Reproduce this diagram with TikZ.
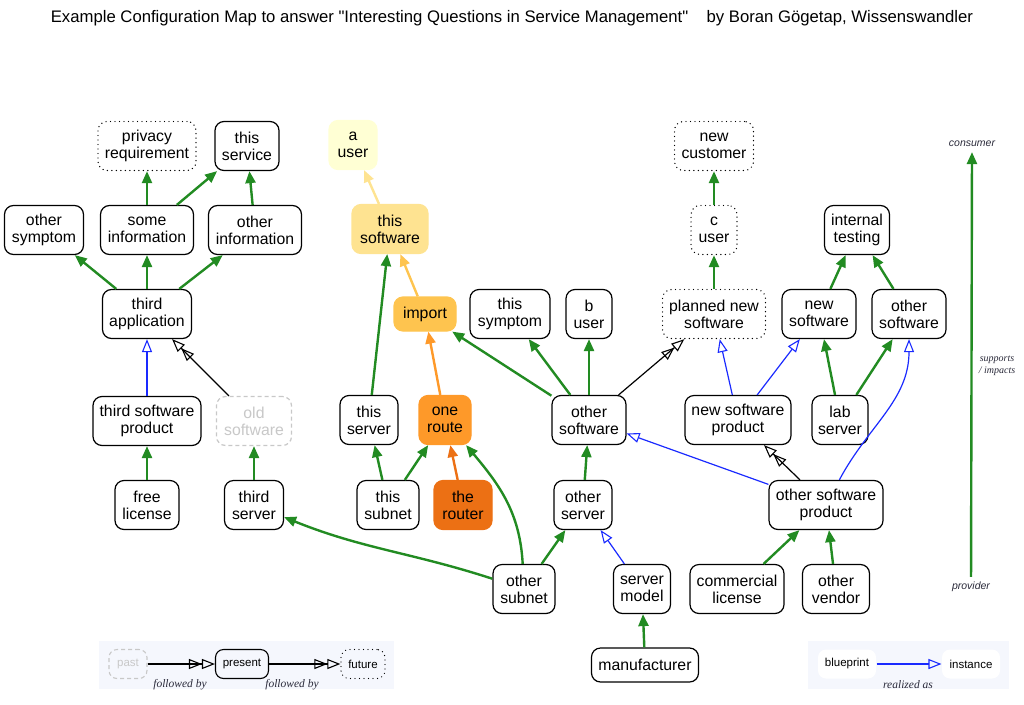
\documentclass[tikz,border=0pt]{standalone}
\usepackage{fontspec}
\setmainfont{Liberation Sans}
\newfontfamily\serifit{Liberation Serif}
\usetikzlibrary{arrows.meta}
\definecolor{fgreen}{HTML}{228B22}
\definecolor{yA}{HTML}{FFFFD4}
\definecolor{yB}{HTML}{FEE391}
\definecolor{yC}{HTML}{FEC44F}
\definecolor{yD}{HTML}{FE9929}
\definecolor{yE}{HTML}{EC7014}
\definecolor{legbg}{HTML}{F5F7FD}
\definecolor{lbl}{HTML}{2A2A3A}
\definecolor{ghost}{HTML}{C8C8C8}
\definecolor{rblue}{HTML}{1A2AFF}
\tikzset{
  box/.style={draw=black, line width=1.2pt, rounded corners=9pt, align=center,
    font=\fontsize{15.8}{17}\selectfont, inner sep=1pt, minimum height=49pt, fill=white},
  onebox/.style={box, minimum height=34pt},
  dotbox/.style={box, line cap=round, dash pattern=on 0pt off 4.5pt, line width=1.4pt},
  ghostbox/.style={box, draw=ghost, text=ghost, dashed, dash pattern=on 4pt off 3pt},
  colbox/.style={box, draw=#1, fill=#1},
  supe/.style={draw=fgreen, line width=2.4pt, -{Triangle[length=12pt,width=10pt]}},
  colarr/.style={draw=#1, line width=2.4pt, -{Triangle[length=12pt,width=10pt]}},
  opentip/.tip={Triangle[open,length=13pt,width=10pt,line width=1.1pt]},
  real/.style={draw=rblue, line width=1.2pt, -opentip},
  follow/.style={draw=black, line width=1.2pt, -{opentip[]opentip[]}},
  elabel/.style={font=\serifit\itshape\fontsize{11.5}{13}\selectfont, text=lbl, inner sep=1pt},
  slabel/.style={font=\itshape\fontsize{10.5}{12}\selectfont, text=lbl, inner sep=2pt},
  legbox/.style={rounded corners=8pt, align=center, font=\fontsize{11.5}{13}\selectfont,
    minimum height=29pt, inner sep=1pt, line width=1.1pt},
}
\begin{document}
\begin{tikzpicture}[x=1pt,y=-1pt]
\useasboundingbox (0,0) rectangle (1024,704);
% title
\node[font=\fontsize{16.7}{19}\selectfont] (title) at (512,18) {Example Configuration Map to answer \XeTeXglyph\XeTeXcharglyph34 Interesting Questions in Service Management\XeTeXglyph\XeTeXcharglyph34\hspace{1.1em}by Boran Gögetap, Wissenswandler};

% left cluster
\node[dotbox, minimum width=98pt] (priv) at (147,146) {privacy\\requirement};
\node[box, minimum width=64pt] (serv) at (247,146) {this\\service};
\node[box, minimum width=79pt] (osym) at (44,230) {other\\symptom};
\node[box, minimum width=93pt] (sinf) at (147,230) {some\\information};
\node[box, minimum width=93pt] (oinf) at (255,230) {other\\information};
\node[box, minimum width=89pt] (tapp) at (147,314) {third\\application};
\node[box, minimum width=108pt] (tsp) at (147,421) {third software\\product};
\node[ghostbox, minimum width=75pt] (olds) at (254,421) {old\\software};
\node[box, minimum width=64pt] (flic) at (147,505) {free\\license};
\node[box, minimum width=59pt] (tsrv) at (254,505) {third\\server};

% middle cluster
\node[colbox=yA, minimum width=48pt] (auser) at (353,145) {a\\user};
\node[colbox=yB, minimum width=76pt] (tsw) at (390,229) {this\\software};
\node[colbox=yC, minimum height=34pt, minimum width=62pt] (imp) at (425,314) {import};
\node[box, minimum width=80pt] (tsym) at (510,314) {this\\symptom};
\node[box, minimum width=46pt] (buser) at (589,314) {b\\user};
\node[box, minimum width=58pt] (tsrvr) at (369,420) {this\\server};
\node[colbox=yD, minimum width=52pt] (oroute) at (445,420) {one\\route};
\node[box, minimum width=74pt] (osw) at (589,420) {other\\software};
\node[box, minimum width=62pt] (tsub) at (388,505) {this\\subnet};
\node[colbox=yE, minimum width=58pt] (rtr) at (463,505) {the\\router};
\node[box, minimum width=58pt] (osrv) at (583,505) {other\\server};
\node[box, minimum width=62pt] (osub) at (524,589) {other\\subnet};
\node[box, minimum width=57pt] (smod) at (642,589) {server\\model};
\node[onebox, minimum width=107pt] (manu) at (645,665) {manufacturer};

% right cluster
\node[dotbox, minimum width=79pt] (ncust) at (714,146) {new\\customer};
\node[dotbox, minimum width=46pt] (cuser) at (714,230) {c\\user};
\node[box, minimum width=65pt] (itest) at (857,230) {internal\\testing};
\node[dotbox, minimum width=103pt] (pnsw) at (714,314) {planned new\\software};
\node[box, minimum width=74pt] (nsw) at (819,314) {new\\software};
\node[box, minimum width=74pt] (osw2) at (909,314) {other\\software};
\node[box, minimum width=106pt] (nsp) at (738,420) {new software\\product};
\node[box, minimum width=56pt] (lab) at (840,420) {lab\\server};
\node[box, minimum width=114pt] (osp) at (826,505) {other software\\product};
\node[box, minimum width=94pt] (clic) at (737,589) {commercial\\license};
\node[box, minimum width=67pt] (oven) at (836,589) {other\\vendor};

% edges left
\draw[supe] (sinf) -- (priv);
\draw[supe] (sinf) -- (serv);
\draw[supe] (oinf) -- (serv);
\draw[supe] (tapp) -- (osym);
\draw[supe] (tapp) -- (sinf);
\draw[supe] (tapp) -- (oinf);
\draw[real] (tsp) -- (tapp);
\draw[follow] (olds) -- (tapp);
\draw[supe] (flic) -- (tsp);
\draw[supe] (tsrv) -- (olds);
\draw[supe] (osub) to[out=162,in=-22] (tsrv);

% edges middle
\draw[colarr=yB] (tsw) -- (auser);
\draw[colarr=yC] (imp) -- (tsw);
\draw[supe] (tsrvr) -- (tsw);
\draw[colarr=yD] (oroute) -- (imp);
\draw[colarr=yE] (rtr) -- (oroute);
\draw[supe] (tsub) -- (tsrvr);
\draw[supe] (tsub) -- (oroute);
\draw[supe] (osub) to[out=93,in=-50] (oroute);
\draw[supe] (osub) -- (osrv);
\draw[real] (smod) -- (osrv);
\draw[supe] (manu) -- (smod);
\draw[supe] (osrv) -- (osw);
\draw[supe] (osw) -- (imp);
\draw[supe] (osw) -- (tsym);
\draw[supe] (osw) -- (buser);
\draw[follow] (osw) -- (pnsw);

% edges right
\draw[real] (nsp) -- (pnsw);
\draw[real] (nsp) -- (nsw);
\draw[supe] (lab) -- (nsw);
\draw[supe] (lab) -- (osw2);
\draw[follow] (osp) -- (nsp);
\draw[real] (osp) -- (osw);
\draw[real] (osp) to[out=62,in=-90] (osw2);
\draw[supe] (clic) -- (osp);
\draw[supe] (oven) -- (osp);
\draw[supe] (nsw) -- (itest);
\draw[supe] (osw2) -- (itest);
\draw[supe] (pnsw) -- (cuser);
\draw[supe] (cuser) -- (ncust);

% consumer / provider axis
\node[slabel] (lcons) at (972,144) {consumer};
\node[slabel] (lprov) at (971,587) {provider};
\draw[supe, shorten <=3pt, shorten >=3pt] (lprov) -- (lcons);
\node[elabel, align=center, font=\serifit\itshape\fontsize{10}{12}\selectfont] (lsup) at (997,366) {supports\\/ impacts};

% legend left
\fill[legbg] (99,641) rectangle (394,689);
\node[legbox, draw=ghost, text=ghost, dashed, dash pattern=on 4pt off 3pt, minimum width=38pt] (past) at (128,664) {past};
\node[legbox, draw=black, minimum width=53pt] (pres) at (242,664) {present};
\node[legbox, draw=black, line cap=round, dash pattern=on 0pt off 4.5pt, line width=1.3pt, minimum width=44pt] (fut) at (363,664) {future};
\draw[follow] (past) -- (pres);
\draw[follow] (pres) -- (fut);
\node[elabel] (fb1) at (180,685) {followed by};
\node[elabel] (fb2) at (292,685) {followed by};

% legend right
\fill[legbg] (808,641) rectangle (1009,689);
\node[legbox, fill=white, minimum width=58pt] (blue) at (847,664) {blueprint};
\node[legbox, fill=white, minimum width=58pt] (inst) at (971,664) {instance};
\draw[real] (blue) -- (inst);
\node[elabel] (ra) at (908,685) {realized as};
\end{tikzpicture}
\end{document}
